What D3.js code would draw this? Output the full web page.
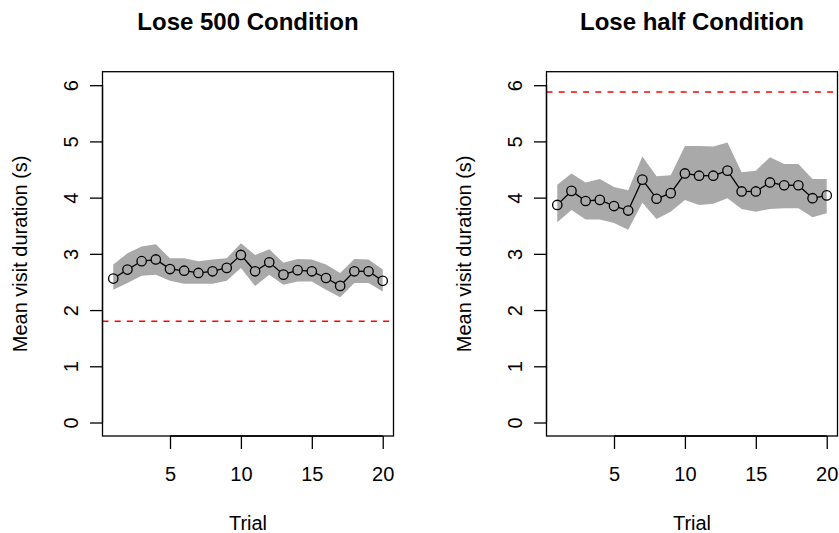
<!DOCTYPE html>
<html>
<head>
<meta charset="utf-8">
<script src="https://d3js.org/d3.v7.min.js"></script>
<style>
  body { margin: 0; background: #fff; }
  text { font-family: "Liberation Sans", Arial, sans-serif; }
</style>
</head>
<body>
<div id="chart"></div>
<script>
// data
var trials = d3.range(1, 21);
var xTicks = [5, 10, 15, 20];
var yTicks = [0, 1, 2, 3, 4, 5, 6];

var lose500Mean  = [2.56, 2.72, 2.87, 2.90, 2.73, 2.70, 2.66, 2.69, 2.75, 2.98, 2.69, 2.85, 2.63, 2.71, 2.69, 2.57, 2.43, 2.69, 2.69, 2.52];
var lose500Upper = [2.81, 3.01, 3.13, 3.17, 2.92, 2.92, 2.87, 2.90, 2.92, 3.19, 2.98, 3.08, 2.84, 2.91, 2.90, 2.81, 2.66, 2.91, 2.90, 2.72];
var lose500Lower = [2.36, 2.48, 2.61, 2.63, 2.52, 2.47, 2.47, 2.47, 2.52, 2.75, 2.43, 2.63, 2.45, 2.51, 2.51, 2.36, 2.23, 2.48, 2.48, 2.33];
var lose500Ref = 1.80;

var loseHalfMean  = [3.87, 4.12, 3.94, 3.96, 3.85, 3.77, 4.32, 3.98, 4.08, 4.43, 4.39, 4.39, 4.48, 4.11, 4.11, 4.27, 4.22, 4.22, 3.99, 4.04];
var loseHalfUpper = [4.23, 4.43, 4.27, 4.33, 4.19, 4.13, 4.73, 4.38, 4.40, 4.92, 4.92, 4.91, 4.98, 4.45, 4.48, 4.72, 4.60, 4.60, 4.33, 4.33];
var loseHalfLower = [3.56, 3.78, 3.61, 3.61, 3.55, 3.43, 3.91, 3.62, 3.75, 3.96, 3.87, 3.89, 3.99, 3.80, 3.75, 3.80, 3.81, 3.81, 3.65, 3.72];
var loseHalfRef = 5.88;

var panels = [
  {title: "Lose 500 Condition", left: 102.5, mean: lose500Mean, upper: lose500Upper, lower: lose500Lower, ref: lose500Ref},
  {title: "Lose half Condition", left: 546.5, mean: loseHalfMean, upper: loseHalfUpper, lower: loseHalfLower, ref: loseHalfRef}
];

var W = 839, H = 533;
var plotW = 291, plotTop = 71.7, plotBottom = 436;
var r = 4.7, fs = 20;

var svg = d3.select("#chart")
  .append("svg")
    .attr("width", W)
    .attr("height", H);

// R style axes: 4% padding either side
var x = d3.scaleLinear().domain([0.24, 20.76]).range([0, plotW]);
var y = d3.scaleLinear().domain([-0.24, 6.24]).range([plotBottom, plotTop]);

panels.forEach(function(p) {
  var g = svg.append("g")
    .attr("transform", "translate(" + p.left + ",0)");

  // CI band
  var band = d3.area()
    .x(function(d, i) { return x(trials[i]); })
    .y0(function(d, i) { return y(p.lower[i]); })
    .y1(function(d, i) { return y(p.upper[i]); });

  g.append("path")
    .datum(p.mean)
    .attr("d", band)
    .attr("fill", "#a9a9a9");

  // reference line
  g.append("line")
    .attr("x1", 0)
    .attr("x2", plotW)
    .attr("y1", y(p.ref))
    .attr("y2", y(p.ref))
    .attr("stroke", "#ff0000")
    .attr("stroke-width", 1.4)
    .attr("stroke-dasharray", "6,6.2");

  // type = "b": segments stop at the circle edges
  var segs = d3.pairs(p.mean.map(function(d, i) { return [x(trials[i]), y(d)]; }));
  g.selectAll(".seg")
    .data(segs)
    .enter()
    .append("line")
    .attr("class", "seg")
    .each(function(s) {
      var dx = s[1][0] - s[0][0], dy = s[1][1] - s[0][1];
      var len = Math.sqrt(dx * dx + dy * dy), ux = dx / len, uy = dy / len;
      d3.select(this)
        .attr("x1", s[0][0] + ux * r).attr("y1", s[0][1] + uy * r)
        .attr("x2", s[1][0] - ux * r).attr("y2", s[1][1] - uy * r);
    })
    .attr("stroke", "#000")
    .attr("stroke-width", 1.3);

  g.selectAll("circle")
    .data(p.mean)
    .enter()
    .append("circle")
    .attr("cx", function(d, i) { return x(trials[i]); })
    .attr("cy", function(d) { return y(d); })
    .attr("r", r)
    .attr("fill", "none")
    .attr("stroke", "#000")
    .attr("stroke-width", 1.3);

  // box
  g.append("rect")
    .attr("x", 0)
    .attr("y", plotTop)
    .attr("width", plotW)
    .attr("height", plotBottom - plotTop)
    .attr("fill", "none")
    .attr("stroke", "#000")
    .attr("stroke-width", 1.3);

  // x axis
  var xa = g.append("g")
    .attr("transform", "translate(0," + plotBottom + ")")
    .call(d3.axisBottom(x).tickValues(xTicks).tickSizeInner(13).tickSizeOuter(0));
  xa.select(".domain")
    .attr("d", "M" + x(xTicks[0]) + ",0H" + x(xTicks[xTicks.length - 1]))
    .attr("stroke-width", 1.3);
  xa.selectAll(".tick line").attr("stroke-width", 1.3);
  xa.selectAll(".tick text")
    .attr("y", 45)
    .attr("dy", null)
    .attr("font-size", fs)
    .attr("fill", "#000")
    .attr("font-family", "Liberation Sans, Arial, sans-serif");

  // y axis
  var ya = g.append("g")
    .call(d3.axisLeft(y).tickValues(yTicks).tickFormat(d3.format("d")).tickSizeInner(12.5).tickSizeOuter(0));
  ya.select(".domain")
    .attr("d", "M0," + y(yTicks[0]) + "V" + y(yTicks[yTicks.length - 1]))
    .attr("stroke-width", 1.3);
  ya.selectAll(".tick line").attr("stroke-width", 1.3);
  ya.selectAll(".tick text")
    .attr("x", null)
    .attr("dy", null)
    .attr("font-size", fs)
    .attr("fill", "#000")
    .attr("font-family", "Liberation Sans, Arial, sans-serif")
    .attr("text-anchor", "middle")
    .attr("transform", "translate(-25,0) rotate(-90)");

  // titles
  g.append("text")
    .attr("x", plotW / 2)
    .attr("y", 30)
    .attr("text-anchor", "middle")
    .attr("font-size", 24)
    .attr("font-weight", "bold")
    .text(p.title);

  g.append("text")
    .attr("x", plotW / 2)
    .attr("y", 530)
    .attr("text-anchor", "middle")
    .attr("font-size", fs)
    .text("Trial");

  g.append("text")
    .attr("transform", "translate(-75.5," + ((plotTop + plotBottom) / 2) + ") rotate(-90)")
    .attr("text-anchor", "middle")
    .attr("font-size", fs)
    .text("Mean visit duration (s)");
});
</script>
</body>
</html>
